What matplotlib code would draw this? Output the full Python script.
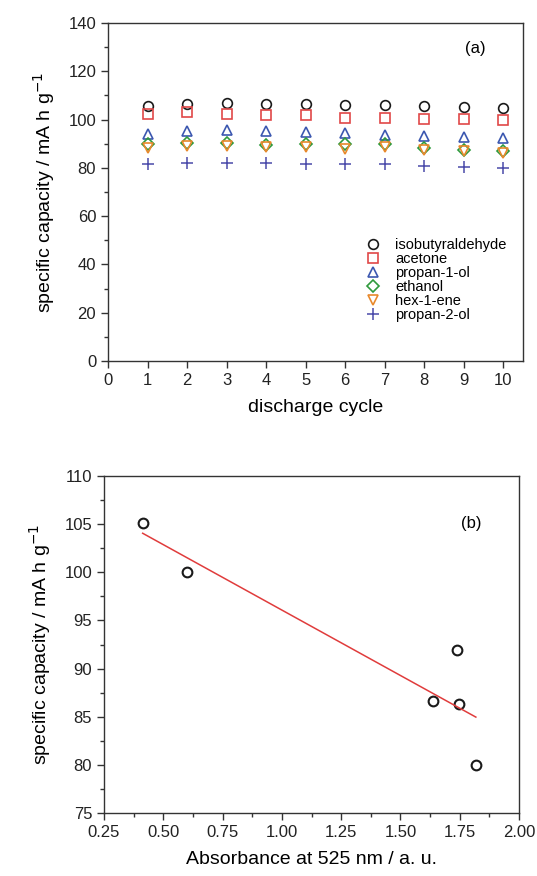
import numpy as np
import matplotlib
matplotlib.use("Agg")
import matplotlib.pyplot as plt
from matplotlib.ticker import MultipleLocator

plt.rcParams['font.family'] = ['Liberation Sans', 'DejaVu Sans']

# panel (a): specific capacity vs discharge cycle
cycles = [1, 2, 3, 4, 5, 6, 7, 8, 9, 10]
isobutyraldehyde = [105.6, 106.6, 106.7, 106.6, 106.4, 106.2, 106.1, 105.6, 105.3, 105.0]
acetone = [102.5, 103.2, 102.5, 101.9, 101.7, 100.6, 100.5, 100.2, 100.4, 99.9]
propan_1_ol = [94.2, 95.2, 95.5, 95.3, 95.0, 94.6, 93.8, 93.4, 92.8, 92.5]
ethanol = [90.0, 90.1, 90.3, 89.3, 89.8, 90.0, 89.7, 88.2, 87.4, 86.8]
hex_1_ene = [88.3, 89.1, 89.1, 88.8, 88.7, 88.0, 88.6, 87.3, 87.0, 86.2]
propan_2_ol = [81.5, 82.0, 82.2, 81.9, 81.6, 81.8, 81.5, 80.8, 80.2, 79.9]

series = [
    ("isobutyraldehyde", isobutyraldehyde, "o", "#1a1a1a"),
    ("acetone", acetone, "s", "#e04848"),
    ("propan-1-ol", propan_1_ol, "^", "#3c58b0"),
    ("ethanol", ethanol, "D", "#2f9a3c"),
    ("hex-1-ene", hex_1_ene, "v", "#e8892c"),
    ("propan-2-ol", propan_2_ol, "+", "#4a4aaa"),
]

# panel (b): capacity vs absorbance
absorbance = [0.413, 0.601, 1.639, 1.737, 1.747, 1.818]
capacity_b = [105.1, 100.0, 86.6, 91.9, 86.3, 80.0]

fig = plt.figure(figsize=(5.37, 8.76), dpi=100)
ax1 = fig.add_axes([0.2011, 0.5879, 0.7728, 0.3858])
ax2 = fig.add_axes([0.1937, 0.0719, 0.7728, 0.3847])

spine_col = "#333333"
for ax in (ax1, ax2):
    for s in ax.spines.values():
        s.set_color(spine_col)
        s.set_linewidth(1.0)
    ax.tick_params(which="both", direction="out", colors=spine_col,
                   labelcolor="#222222", labelsize=12, top=False, right=False)
    ax.tick_params(which="major", length=5, width=1.0)
    ax.tick_params(which="minor", length=3, width=1.0)

for name, vals, m, c in series:
    if m == "+":
        ax1.plot(cycles, vals, ls="none", marker=m, ms=8, mew=1.1, color=c, label=name)
    else:
        ms = 6 if m == "D" else 7
        ax1.plot(cycles, vals, ls="none", marker=m, ms=ms, mew=1.2, mfc="none",
                 mec=c, label=name)

ax1.set_xlim(0, 10.5)
ax1.set_ylim(0, 140)
ax1.xaxis.set_major_locator(MultipleLocator(1))
ax1.yaxis.set_major_locator(MultipleLocator(20))
ax1.yaxis.set_minor_locator(MultipleLocator(10))
ax1.set_xlabel("discharge cycle", fontsize=14, labelpad=8)
ax1.set_ylabel("specific capacity / mA h g$^{-1}$", fontsize=14, labelpad=8)
ax1.text(0.885, 0.925, "(a)", transform=ax1.transAxes, fontsize=12,
         ha="center", va="center")
ax1.legend(loc="lower right", bbox_to_anchor=(0.985, 0.085), frameon=False,
           fontsize=10.5, labelspacing=0.0, handlelength=1.2, handletextpad=0.9,
           borderpad=0.2)

# panel (b)
ax2.plot(absorbance, capacity_b, ls="none", marker="o", ms=7, mew=1.5,
         mfc="none", mec="#1a1a1a")
k, b0 = np.polyfit(absorbance, capacity_b, 1)
xf = np.array([min(absorbance), max(absorbance)])
ax2.plot(xf, k * xf + b0, color="#e03c3c", lw=1.1)

ax2.set_xlim(0.25, 2.0)
ax2.set_ylim(75, 110)
ax2.xaxis.set_major_locator(MultipleLocator(0.25))
ax2.xaxis.set_minor_locator(MultipleLocator(0.125))
ax2.yaxis.set_major_locator(MultipleLocator(5))
ax2.yaxis.set_minor_locator(MultipleLocator(2.5))
ax2.xaxis.set_major_formatter(matplotlib.ticker.FormatStrFormatter("%.2f"))
ax2.set_xlabel("Absorbance at 525 nm / a. u.", fontsize=14, labelpad=8)
ax2.set_ylabel("specific capacity / mA h g$^{-1}$", fontsize=14, labelpad=8)
ax2.text(0.885, 0.86, "(b)", transform=ax2.transAxes, fontsize=12,
         ha="center", va="center")

fig.savefig("out.png", dpi=100)
